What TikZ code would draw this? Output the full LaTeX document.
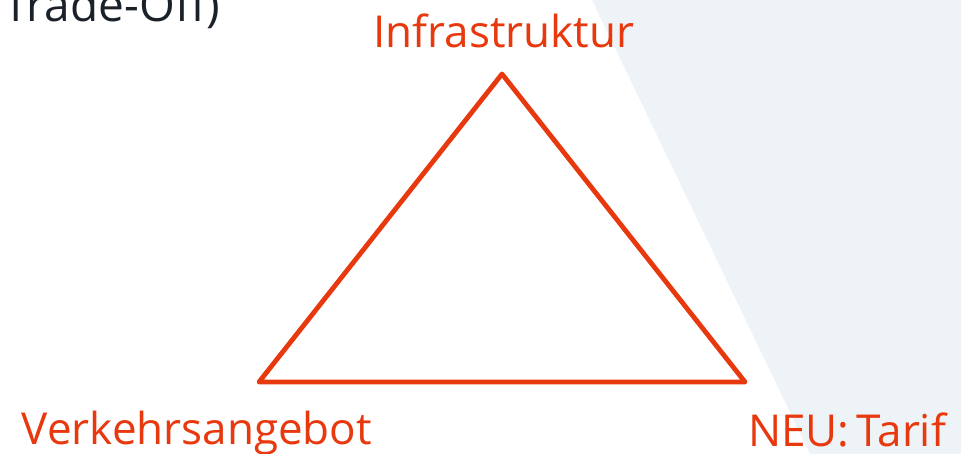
\documentclass[tikz,border=0pt]{standalone}
\usepackage{fontspec}
\setmainfont{Open Sans}
\usetikzlibrary{positioning}
\definecolor{dbred}{HTML}{E8380D}
\definecolor{dbpanel}{HTML}{EEF3F7}
\definecolor{dbtext}{HTML}{1B2129}

\begin{document}
\begin{tikzpicture}[x=1pt,y=-1pt,
  label/.style={text=dbred, inner sep=0pt, anchor=base, font=\fontsize{44}{50}\selectfont}]
\useasboundingbox (0,0) rectangle (961,454);
\clip (0,0) rectangle (961,454);
\fill [dbpanel] (592,0) -- (961,0) -- (961,454) -- (810,454) -- cycle;
\node [text=dbtext, inner sep=0pt, anchor=base east, font=\fontsize{46}{50}\selectfont] (title) at (220,22) {Trade-Off)};
\coordinate (top) at (502,74);
\coordinate (left) at (259,382);
\coordinate (right) at (745,382);
\draw [dbred, line width=4.8pt, line join=round] (top) -- (left) -- (right) -- cycle;
\node [label] (infra) at (504,48) {Infrastruktur};
\node [label] (angebot) at (197,444) {Verkehrsangebot};
\node [label] (tarif) at (847,446) {NEU:\,Tarif};
\end{tikzpicture}
\end{document}
